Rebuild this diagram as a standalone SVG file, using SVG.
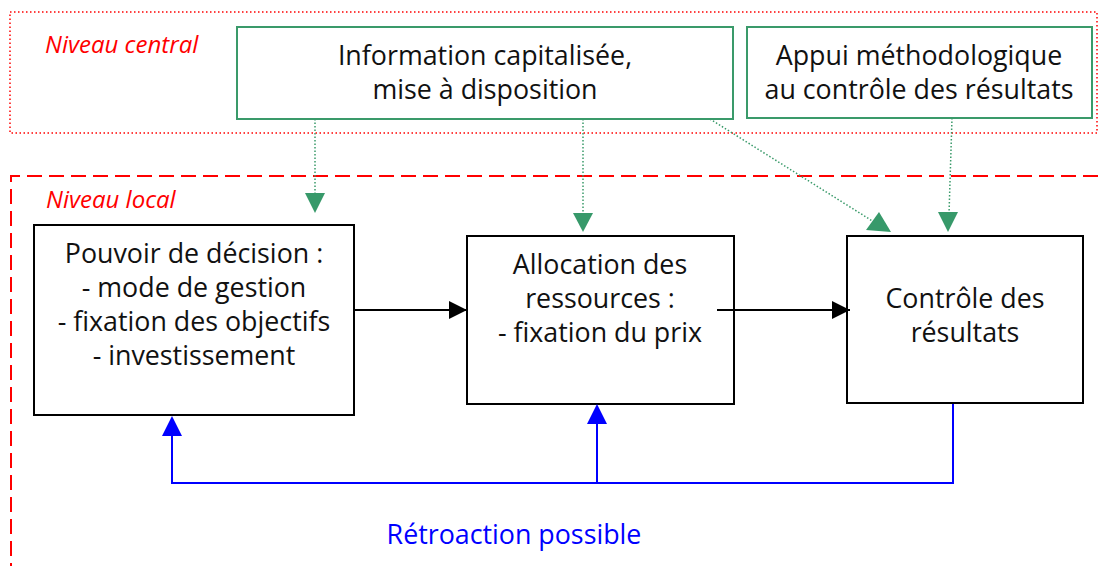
<svg xmlns="http://www.w3.org/2000/svg" width="1099" height="566" viewBox="0 0 1099 566">
<defs>
<style>
.t{font-family:"Open Sans","Lato","Liberation Sans",sans-serif;font-size:26.8px;fill:#111;text-anchor:middle}
.lvl{font-family:"Open Sans","Lato","Liberation Sans",sans-serif;font-size:24px;font-style:italic;fill:#ff0000}
.gbox{fill:#fff;stroke:#3a9a6a;stroke-width:2}
.bbox{fill:#fff;stroke:#000;stroke-width:2}
.gline{fill:none;stroke:#3a9a6a;stroke-width:1.5;stroke-dasharray:1.5 2}
.ghead{fill:#37996a}
.bl{fill:none;stroke:#0000ff;stroke-width:2}
</style>
<marker id="ab" viewBox="0 0 10 10" refX="10" refY="5" markerWidth="18" markerHeight="18" markerUnits="userSpaceOnUse" orient="auto">
<path d="M0,0 L10,5 L0,10 Z" fill="#000"/>
</marker>
</defs>
<rect width="1099" height="566" fill="#fff"/>
<g id="zones">
<rect x="10" y="12" width="1087" height="121" fill="none" stroke="#ff0000" stroke-width="1.5" stroke-dasharray="1.5 2.5"/>
<path d="M11,600 L11,176 L1110,176" fill="none" stroke="#ff0000" stroke-width="2" stroke-dasharray="15 7"/>
<text class="lvl" x="45" y="53">Niveau central</text>
<text class="lvl" x="46" y="208">Niveau local</text>
</g>
<g id="info">
<rect class="gbox" x="237" y="27" width="496" height="92"/>
<text class="t" x="485" y="65">Information capitalisée,</text>
<text class="t" x="485" y="99">mise à disposition</text>
</g>
<g id="appui">
<rect class="gbox" x="747" y="27" width="345" height="91"/>
<text class="t" x="919" y="65">Appui méthodologique</text>
<text class="t" x="919" y="99">au contrôle des résultats</text>
</g>
<g id="pouvoir">
<rect class="bbox" x="34" y="225" width="320" height="190"/>
<text class="t" x="194" y="263">Pouvoir de décision :</text>
<text class="t" x="194" y="297">- mode de gestion</text>
<text class="t" x="194" y="331">- fixation des objectifs</text>
<text class="t" x="194" y="365">- investissement</text>
</g>
<g id="allocation">
<rect class="bbox" x="467" y="236" width="267" height="168"/>
<text class="t" x="600" y="274">Allocation des</text>
<text class="t" x="600" y="308">ressources :</text>
<text class="t" x="600" y="342">- fixation du prix</text>
</g>
<g id="controle">
<rect class="bbox" x="847" y="236" width="236" height="167"/>
<text class="t" x="965" y="308">Contrôle des</text>
<text class="t" x="965" y="342">résultats</text>
</g>
<g id="connectors">
<line x1="354" y1="310" x2="467" y2="310" stroke="#000" stroke-width="2" marker-end="url(#ab)"/>
<line x1="717" y1="310" x2="850" y2="310" stroke="#000" stroke-width="2" marker-end="url(#ab)"/>
<path class="gline" d="M315,119 L315,195"/>
<polygon class="ghead" points="305,193 325,193 315,213"/>
<path class="gline" d="M583,119 L583,214"/>
<polygon class="ghead" points="573,213 593,213 583,232"/>
<path class="gline" d="M710,119 L874,222"/>
<polygon class="ghead" points="879,212 866,230 891,232"/>
<path class="gline" d="M952,118 L949,214"/>
<polygon class="ghead" points="938,212 958,212 948,232"/>
<path class="bl" d="M172,436 L172,483 L953,483 L953,404"/>
<path class="bl" d="M597,424 L597,483"/>
<polygon points="172,416 162,436 182,436" fill="#0000ff"/>
<polygon points="597,404 587,424 607,424" fill="#0000ff"/>
<text x="514" y="544" font-family="'Open Sans',Lato,'Liberation Sans',sans-serif" font-size="26.8" fill="#0000ff" text-anchor="middle">Rétroaction possible</text>
</g>
</svg>
